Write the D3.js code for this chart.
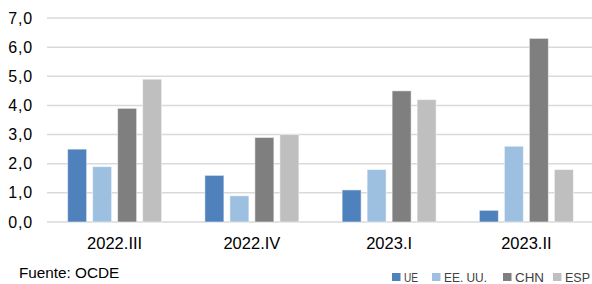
<!DOCTYPE html>
<html>
<head>
<meta charset="utf-8">
<script src="https://cdn.jsdelivr.net/npm/d3@7"></script>
<style>
  html, body { margin: 0; padding: 0; background: #fff; }
  svg { display: block; font-family: "Liberation Sans", Arial, sans-serif; }
</style>
</head>
<body>
<div id="chart"></div>
<script>
const periods = ["2022.III", "2022.IV", "2023.I", "2023.II"];
const seriesNames = ["UE", "EE. UU.", "CHN", "ESP"];
const ue = [2.5, 1.6, 1.1, 0.4];
const eeuu = [1.9, 0.9, 1.8, 2.6];
const chn = [3.9, 2.9, 4.5, 6.3];
const esp = [4.9, 3.0, 4.2, 1.8];
const yTicks = [0, 1, 2, 3, 4, 5, 6, 7];
const colors = ["#4f81bd", "#9dc0e0", "#7f7f7f", "#bfbfbf"];

const seriesValues = [ue, eeuu, chn, esp];

const width = 592;
const height = 284;

const svg = d3.select("#chart")
  .append("svg")
  .attr("width", width)
  .attr("height", height);

const x = d3.scaleBand()
  .domain(periods)
  .range([46, 595]);

const x1 = d3.scaleBand()
  .domain(seriesNames)
  .range([0, 94])
  .paddingInner(0.24);

const y = d3.scaleLinear()
  .domain([0, 7])
  .range([222, 18]);

// gridlines
svg.append("g")
  .selectAll("line")
  .data(yTicks)
  .enter()
  .append("line")
  .attr("x1", 47)
  .attr("x2", width)
  .attr("y1", d => y(d))
  .attr("y2", d => y(d))
  .attr("stroke", "#d9d9d9")
  .attr("stroke-width", 1.5);

// y labels
svg.append("g")
  .selectAll("text")
  .data(yTicks)
  .enter()
  .append("text")
  .attr("x", 33)
  .attr("y", d => y(d))
  .attr("dy", "0.35em")
  .attr("text-anchor", "end")
  .attr("font-size", 16)
  .attr("letter-spacing", 0.8)
  .attr("fill", "#000")
  .text(d => d.toFixed(1).replace(".", ","));

// bars
const groups = svg.append("g")
  .selectAll("g")
  .data(periods)
  .enter()
  .append("g")
  .attr("transform", d => `translate(${x(d) + x.bandwidth() / 2 - 47}, 0)`);

groups.selectAll("rect")
  .data((p, i) => seriesNames.map((s, j) => ({ series: s, value: seriesValues[j][i], color: colors[j] })))
  .enter()
  .append("rect")
  .attr("x", d => x1(d.series))
  .attr("width", x1.bandwidth())
  .attr("y", d => y(d.value))
  .attr("height", d => y(0) - y(d.value))
  .attr("fill", d => d.color)
  .attr("stroke", "#ffffff")
  .attr("stroke-opacity", 0.5)
  .attr("stroke-width", 1);

// x labels
svg.append("g")
  .selectAll("text")
  .data(periods)
  .enter()
  .append("text")
  .attr("x", d => x(d) + x.bandwidth() / 2)
  .attr("y", 243)
  .attr("dy", "0.35em")
  .attr("text-anchor", "middle")
  .attr("font-size", 16.5)
  .attr("fill", "#000")
  .text(d => d);

// source
svg.append("text")
  .attr("x", 19)
  .attr("y", 273)
  .attr("dy", "0.35em")
  .attr("font-size", 15.3)
  .attr("fill", "#000")
  .text("Fuente: OCDE");

// legend (narrow font in the original, so squeeze the text a bit)
const legendX = [392, 432, 503, 553];
const legendTextW = [14, 43, 29, 25];
const legend = svg.append("g")
  .selectAll("g")
  .data(seriesNames)
  .enter()
  .append("g")
  .attr("transform", (d, i) => `translate(${legendX[i]}, 277)`);

legend.append("rect")
  .attr("x", 0)
  .attr("y", -4)
  .attr("width", 8.5)
  .attr("height", 8)
  .attr("fill", (d, i) => colors[i]);

legend.append("text")
  .attr("x", 12)
  .attr("y", 0)
  .attr("dy", "0.36em")
  .attr("font-size", 13.5)
  .attr("textLength", (d, i) => legendTextW[i])
  .attr("lengthAdjust", "spacingAndGlyphs")
  .attr("fill", "#404040")
  .text(d => d);
</script>
</body>
</html>
